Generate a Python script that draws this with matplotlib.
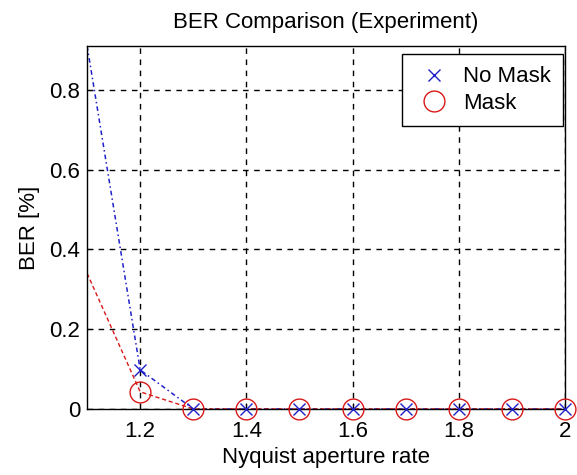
import numpy as np
import matplotlib
matplotlib.use('agg')
import matplotlib.pyplot as plt

# Nyquist aperture rate and measured BER [%]
rate = [1.1, 1.2, 1.3, 1.4, 1.5, 1.6, 1.7, 1.8, 1.9, 2.0]
ber_nomask = [0.91, 0.098, 0.0, 0.0, 0.0, 0.0, 0.0, 0.0, 0.0, 0.0]
ber_mask = [0.34, 0.043, 0.0, 0.0, 0.0, 0.0, 0.0, 0.0, 0.0, 0.0]

xticks = [1.2, 1.4, 1.6, 1.8, 2.0]
xticklabels = ['1.2', '1.4', '1.6', '1.8', '2']
yticks = [0, 0.2, 0.4, 0.6, 0.8]
yticklabels = ['0', '0.2', '0.4', '0.6', '0.8']

plt.rcParams['font.family'] = ['Liberation Sans', 'DejaVu Sans']
fs = 16

fig = plt.figure(figsize=(5.77, 4.75), dpi=100)
ax = fig.add_axes([0.151, 0.139, 0.828, 0.764])

blue = '#2020c8'
red = '#d81818'

# markers (legend entries), first point has no marker
ax.plot(rate[1:], ber_nomask[1:], 'x', color=blue, ms=9, mew=1.0,
        linestyle='none', label='No Mask', clip_on=False, zorder=4)
ax.plot(rate[1:], ber_mask[1:], 'o', mfc='none', mec=red, ms=15,
        mew=1.0, linestyle='none', label='Mask', clip_on=False, zorder=3)
# connecting lines
ax.plot(rate, ber_nomask, color=blue, lw=1.1, linestyle=(0, (3, 2, 1, 2)),
        zorder=2)
ax.plot(rate, ber_mask, color=red, lw=1.0, linestyle=(0, (3, 2)), zorder=2)

ax.set_xlim(1.1, 2.0)
ax.set_ylim(0, 0.91)
ax.set_xticks(xticks)
ax.set_xticklabels(xticklabels)
ax.set_yticks(yticks)
ax.set_yticklabels(yticklabels)
ax.tick_params(direction='in', labelsize=fs, length=4, colors='black')
ax.tick_params(axis='x', pad=9)
ax.tick_params(axis='y', pad=5)
ax.grid(True, color='black', linestyle=(0, (4, 4)), linewidth=1.0)
for sp in ax.spines.values():
    sp.set_linewidth(1.0)

ax.set_xlabel('Nyquist aperture rate', fontsize=fs, labelpad=3)
ax.set_ylabel('BER [%]', fontsize=fs, labelpad=7)
ax.set_title('BER Comparison (Experiment)', fontsize=fs, pad=13)

leg = ax.legend(loc='upper right', bbox_to_anchor=(0.997, 0.978), fontsize=fs,
                fancybox=False, framealpha=1, edgecolor='black',
                borderaxespad=0.0, handletextpad=0.4, handlelength=1.8,
                borderpad=0.55, labelspacing=0.25)
leg.get_frame().set_linewidth(1.0)

fig.savefig('out.png', dpi=100)
